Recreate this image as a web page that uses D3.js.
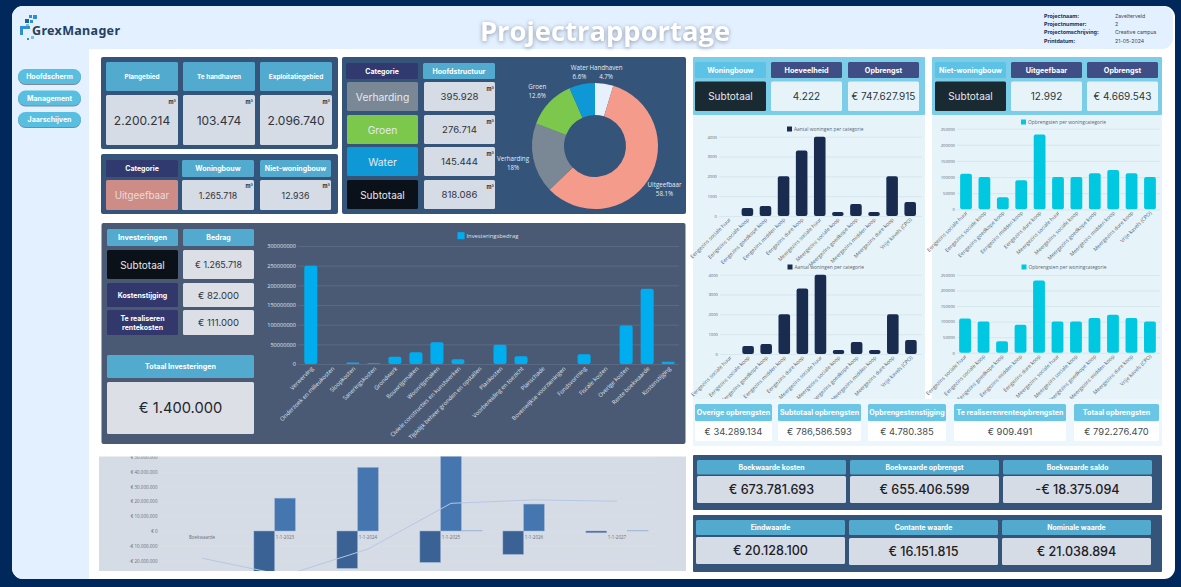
<!DOCTYPE html>
<html lang="nl">
<head>
<meta charset="UTF-8">
<title>Projectrapportage</title>
<script src="https://d3js.org/d3.v7.min.js"></script>
<style>
    * { margin: 0; padding: 0; }
    body { background-color: #00285a; overflow: hidden; }
    svg { display: block; }
    text { font-family: Inter, "Open Sans", sans-serif; }
    .chart text { font-family: "Open Sans", sans-serif; }
    .title { font-family: "Open Sans", sans-serif; font-weight: 700; filter: drop-shadow(0 1px 2px rgba(70,80,100,.55)); }
    .raised { filter: drop-shadow(0 1px 0.5px rgba(40,50,70,.55)); }
</style>
</head>
<body>
<svg id="page" width="1181" height="587"></svg>
<script>
// project info
const infoLabels = ['Projectnaam:', 'Projectnummer:', 'Projectomschrijving:', 'Printdatum:'];
const infoValues = ['Zavelterveld', '2', 'Creative campus', '21-05-2024'];
const menuItems = ['Hoofdscherm', 'Management', 'Jaarschijven'];

// oppervlaktes
const areaHeaders = ['Plangebied', 'Te handhaven', 'Exploitatiegebied'];
const areaValues = ['2.200.214', '103.474', '2.096.740'];
const plotHeaders = ['Categorie', 'Woningbouw', 'Niet-woningbouw'];
const plotValues = ['Uitgeefbaar', '1.265.718', '12.936'];
const mainLabels = ['Verharding', 'Groen', 'Water', 'Subtotaal'];
const mainValues = ['395.928', '276.714', '145.444', '818.086'];

// donut
const donutLabels = ['Handhaven', 'Uitgeefbaar', 'Verharding', 'Groen', 'Water'];
const donutValues = [4.7, 58.1, 18, 12.6, 6.6];
const donutColors = ['#e6f1fd', '#f49b8c', '#7a8896', '#7cc84c', '#0e98d6'];

// investeringen
const investLabels = ['Verwerving', 'Onderzoek en milieukosten', 'Sloopkosten', 'Saneringskosten', 'Grondwerk', 'Bouwrijpmaken', 'Woonrijpmaken', 'Civiele constructies en kunstwerken', 'Tijdelijk beheer gronden en opstallen', 'Plankosten', 'Voorbereiding en toezicht', 'Planschade', 'Bovenwijkse voorzieningen', 'Fondsvorming', 'Fiscale kosten', 'Overige kosten', 'Rente boekwaarde', 'Kostenstijging'];
const investValues = [250000000, 0, 4000000, 2000000, 18600000, 29700000, 55000000, 12000000, 0, 49000000, 19500000, 0, 0, 24600000, 0, 98000000, 191000000, 6000000];
const investTicks = [0, 50000000, 100000000, 150000000, 200000000, 250000000, 300000000];

// woningbouw
const homeLabels = ['Eengezins sociale huur', 'Eengezins sociale koop', 'Eengezins goedkope koop', 'Eengezins midden koop', 'Eengezins dure koop', 'Meergezins sociale huur', 'Meergezins sociale koop', 'Meergezins goedkope koop', 'Meergezins midden koop', 'Meergezins dure koop', 'Vrije kavels (CPO)'];
const homeCounts = [0, 400, 500, 2000, 3300, 4000, 200, 600, 200, 2000, 700];
const homeRevenue = [110000, 100000, 37000, 90000, 232000, 100000, 100000, 112000, 122000, 112000, 100000];
const countTicks = [0, 1000, 2000, 3000, 4000];
const revenueTicks = [0, 50000, 100000, 150000, 200000, 250000];

// opbrengsten
const revenueHeaders = ['Overige opbrengsten', 'Subtotaal opbrengsten', 'Opbrengestenstijging', 'Te realiserenrenteopbrengsten', 'Totaal opbrengsten'];
const revenueValues = ['€ 34.289.134', '€ 786,586.593', '€ 4.780.385', '€ 909.491', '€ 792.276.470'];
const bookHeaders = ['Boekwaarde kosten', 'Boekwaarde opbrengst', 'Boekwaarde saldo'];
const bookValues = ['€ 673.781.693', '€ 655.406.599', '-€ 18.375.094'];
const endHeaders = ['Eindwaarde', 'Contante waarde', 'Nominale waarde'];
const endValues = ['€ 20.128.100', '€ 16.151.815', '€ 21.038.894'];

// boekwaarde per jaar
const yearLabels = ['Boekwaarde', '1-1-2023', '1-1-2024', '1-1-2025', '1-1-2026', '1-1-2027'];
const yearCosts = [0, -34000000, -25200000, -21200000, -15800000, -1200000];
const yearRevenue = [0, 22200000, 43000000, 52100000, 18200000, 0];
const yearInterest = [0, 0, 0, 300000, 0, 300000];
const yearBalance = [-18400000, -30000000, -12200000, 18700000, 21000000, 20100000];
const yearTicks = [-20000000, -10000000, 0, 10000000, 20000000, 30000000, 40000000, 50000000];

const svg = d3.select('#page');

function box(x, y, w, h, fill, r) {
    return svg.append('rect').attr('x', x).attr('y', y).attr('width', w).attr('height', h)
        .attr('rx', r === undefined ? 1.5 : r).attr('fill', fill);
}

function label(x, y, txt, size, color, weight, anchor) {
    return svg.append('text').attr('x', x).attr('y', y)
        .attr('text-anchor', anchor || 'middle').attr('dominant-baseline', 'central')
        .attr('font-size', size).attr('font-weight', weight || 400).attr('fill', color).text(txt);
}

// a coloured cell with centred text
function cell(x, y, w, h, fill, txt, size, color, weight) {
    box(x, y, w, h, fill);
    label(x + w / 2, y + h / 2, txt, size, color, weight);
}

function unit(x, y) {
    label(x, y, 'm²', 5.5, '#2b2f38', 700, 'end');
}

// page background
svg.append('rect').attr('x', 12).attr('y', 6).attr('width', 1163).attr('height', 573).attr('rx', 11).attr('fill', '#ffffff');
svg.append('path').attr('fill', '#e3f0ff')
    .attr('d', 'M12 17 a11 11 0 0 1 11 -11 H1162 a11 11 0 0 1 11 11 V38 a11 11 0 0 1 -11 11 H89 V579 H23 a11 11 0 0 1 -11 -11 Z');

// logo
[[29, 15, 3, '#2e8fd8'], [33, 15, 4, '#2e8fd8'], [25, 19, 4, '#1e5f9c'], [30, 20, 3, '#2e8fd8'], [26, 24, 3, '#7dbbe8'], [31, 36, 3, '#7dbbe8'], [27, 38, 2, '#2e8fd8']]
    .forEach(d => box(d[0], d[1], d[2], d[2], d[3], 0));
svg.append('path').attr('d', 'M20 26 H30 V29 H23 V35 H20 Z').attr('fill', '#2e8fd8');
label(32, 30, 'GrexManager', 12.5, '#24415f', 700, 'start').style('font-family', '"Noto Sans"').attr('textLength', 88);

label(605, 30, 'Projectrapportage', 27.4, '#ffffff', 700).attr('class', 'title');

const infoY = [16, 24, 31.5, 40.5];
infoLabels.forEach((d, i) => {
    label(1044, infoY[i], d, 5.4, '#24304a', 700, 'start');
    label(1115, infoY[i], infoValues[i], 5.2, '#3c4656', 400, 'start');
});

// menu
const menuY = [69, 90.5, 112];
menuItems.forEach((d, i) => {
    box(18, menuY[i], 63, 15, '#58bfe0', 7.5).attr('class', 'raised');
    label(49.5, menuY[i] + 7.5, d, 7, '#ffffff', 700);
});

// plangebied
box(101, 57, 237, 92, '#34547a', 2);
const areaX = [106, 183, 260];
areaHeaders.forEach((d, i) => {
    cell(areaX[i], 62, 72, 29, '#52abcf', d, 6.4, '#ffffff', 700);
    cell(areaX[i], 95, 72, 50, '#d6dce5', areaValues[i], 12, '#30343c');
    unit(areaX[i] + 70, 102);
});

// uitgeefbaar
box(101, 154, 237, 60, '#34547a', 2);
const plotX = [106, 182, 260];
const plotW = [72, 72, 71];
plotHeaders.forEach((d, i) => {
    cell(plotX[i], 160, plotW[i], 17, i === 0 ? '#303a6e' : '#52abcf', d, 7, '#ffffff', 700);
    if (i === 0) {
        cell(plotX[i], 180, plotW[i], 30, '#cd8c85', plotValues[i], 9.8, '#ecdcd9');
    } else {
        cell(plotX[i], 180, plotW[i], 30, '#d6dce5', plotValues[i], 8.8, '#30343c');
        unit(plotX[i] + plotW[i] - 1, 186);
    }
});

// hoofdstructuur
box(342, 57, 344, 157, '#34547a', 2);
cell(346, 63, 72, 16, '#303a6e', 'Categorie', 7, '#ffffff', 700);
cell(423, 63, 72, 16, '#52abcf', 'Hoofdstructuur', 7, '#ffffff', 700);
const mainY = [82, 115, 147, 180];
const mainFill = ['#7a8896', '#7cc84c', '#0e98d6', '#0b1118'];
mainLabels.forEach((d, i) => {
    cell(347, mainY[i], 71, 29, mainFill[i], d, i === 3 ? 10 : 10.3, '#e3eaf0');
    cell(424, mainY[i], 71, 29, '#d6dce5', mainValues[i], 9.6, '#30343c');
    unit(494, mainY[i] + 7);
});

// donut
const pie = d3.pie().sort(null).value(d => d)(donutValues);
const arc = d3.arc().innerRadius(31).outerRadius(63);
const donut = svg.append('g').attr('class', 'chart').attr('transform', 'translate(595,146)');
donut.selectAll('path').data(pie).join('path')
    .attr('d', arc).attr('fill', (d, i) => donutColors[i]);
pie.forEach((d, i) => {
    const mid = (d.startAngle + d.endAngle) / 2;
    const r = 75 + 9 * Math.sin(mid) * Math.sin(mid);
    const t = donut.append('text').attr('text-anchor', 'middle').attr('font-size', 6.2).attr('fill', '#e6edf5')
        .attr('transform', `translate(${r * Math.sin(mid)},${-r * Math.cos(mid)})`);
    t.append('tspan').attr('x', 0).attr('y', -2).text(donutLabels[i]);
    t.append('tspan').attr('x', 0).attr('y', 7).text(donutValues[i] + '%');
});

// bar chart with legend, used for the four small charts and the investment chart
function barChart(o) {
    const g = svg.append('g').attr('class', 'chart');
    const x = d3.scaleBand().domain(o.labels).range([o.x0, o.x1]).padding(o.padding);
    const y = d3.scaleLinear().domain(o.domain).range([o.y0, o.y1]);

    const grid = g.append('g').attr('transform', `translate(${o.gridX0},0)`)
        .call(d3.axisLeft(y).tickValues(o.ticks).tickSize(-(o.gridX1 - o.gridX0)).tickFormat(d3.format('d')).tickPadding(2));
    grid.select('.domain').remove();
    grid.selectAll('line').attr('stroke', o.gridColor).attr('stroke-width', 0.8);
    grid.selectAll('text').attr('font-size', o.tickSize).attr('fill', o.textColor);

    g.selectAll('rect.bar').data(o.values).join('rect').attr('class', 'bar')
        .attr('x', (d, i) => x(o.labels[i]))
        .attr('y', d => y(d))
        .attr('width', x.bandwidth())
        .attr('height', d => y(0) - y(d))
        .attr('rx', d => Math.min(2, (y(0) - y(d)) / 2))
        .attr('fill', o.color);

    const axis = g.append('g').attr('transform', `translate(0,${o.y0})`)
        .call(d3.axisBottom(x).tickSize(0).tickPadding(0));
    axis.select('.domain').remove();
    axis.selectAll('text')
        .attr('font-size', o.labelSize).attr('fill', o.textColor)
        .attr('text-anchor', 'end').attr('dy', 0)
        .attr('transform', `translate(${o.labelDx},${o.labelDy}) rotate(-45)`);

    g.append('rect').attr('x', o.legendX).attr('y', o.legendY - o.legendBox / 2)
        .attr('width', o.legendBox).attr('height', o.legendBox).attr('fill', o.color);
    g.append('text').attr('x', o.legendX + o.legendBox + 2).attr('y', o.legendY)
        .attr('dominant-baseline', 'central').attr('font-size', o.legendSize).attr('fill', o.textColor).text(o.legend);
}

// investeringen panel
box(101.5, 223, 584, 221, '#4a5a75', 2);
cell(107, 229, 71, 17, '#52abcf', 'Investeringen', 7.3, '#ffffff', 700);
cell(183, 229, 71, 17, '#52abcf', 'Bedrag', 7, '#ffffff', 700);
cell(107, 250, 71, 29, '#0b1118', 'Subtotaal', 10, '#e6e8ec');
cell(183, 250, 71, 29, '#dcdfe5', '€ 1.265.718', 8.8, '#30343c');
cell(107, 283, 71, 24, '#33386c', 'Kostenstijging', 7, '#ffffff', 700);
cell(183, 283, 71, 24, '#dcdfe5', '€ 82.000', 9.5, '#30343c');
box(107, 310, 71, 25, '#33386c');
label(142.5, 318, 'Te realiseren', 7, '#ffffff', 700);
label(142.5, 327, 'rentekosten', 7, '#ffffff', 700);
cell(183, 310, 71, 25, '#dcdfe5', '€ 111.000', 9.5, '#30343c');
cell(107, 355, 147, 23, '#52abcf', 'Totaal Investeringen', 7.1, '#ffffff', 700);
cell(107, 382, 147, 52, '#dcdfe5', '€ 1.400.000', 14.7, '#23262c');

barChart({
    labels: investLabels, values: investValues, ticks: investTicks, domain: [0, 300000000],
    x0: 296.3, x1: 682.7, padding: 0.38, y0: 364, y1: 246, gridX0: 298, gridX1: 679,
    gridColor: '#5f6e88', textColor: '#dfe3ea', color: '#00aeef', tickSize: 5.6, labelSize: 5.8, legendSize: 5.8,
    labelDx: 3, labelDy: 5, legend: 'Investeringsbedrag', legendX: 457.5, legendY: 235.7, legendBox: 7
});

// woningbouw panels
box(693, 57, 232, 58, '#7bcde8', 1);
box(932, 57, 230, 58, '#7bcde8', 1);
box(693, 115, 232, 285, '#e6f4fa', 0);
box(932, 115, 230, 285, '#e6f4fa', 0);

const leftX = [695, 771, 848];
const rightX = [935, 1011, 1087];
const topHeaders = [['Woningbouw', 'Hoeveelheid', 'Opbrengst'], ['Niet-woningbouw', 'Uitgeefbaar', 'Opbrengst']];
const topValues = [['Subtotaal', '4.222', '€ 747.627.915'], ['Subtotaal', '12.992', '€ 4.669.543']];
[leftX, rightX].forEach((cols, s) => {
    cols.forEach((cx, i) => {
        cell(cx, 62, 71, 16, i === 0 ? '#5cc2e6' : '#3f4f86', topHeaders[s][i], 7.2, '#ffffff', 700);
        if (i === 0) {
            cell(cx, 81.5, 71, 29.5, '#1a2a32', topValues[s][i], 10, '#e6e8ec');
        } else {
            cell(cx, 81.5, 71, 29.5, '#e6f4fa', topValues[s][i], 10, '#30343c');
        }
    });
});

const smallBase = { labels: homeLabels, padding: 0.36, gridColor: '#d3e3ea', textColor: '#5a6470', tickSize: 4.2, labelSize: 5.2, legendSize: 4.9, labelDx: 2, labelDy: 4, legendBox: 5 };
barChart({ ...smallBase, values: homeCounts, ticks: countTicks, domain: [0, 4000], color: '#1a2b50',
    x0: 717, x1: 922.5, y0: 216, y1: 136.7, gridX0: 719, gridX1: 922, legend: 'Aantal woningen per categorie', legendX: 787, legendY: 129 });
barChart({ ...smallBase, values: homeCounts, ticks: countTicks, domain: [0, 4000], color: '#1a2b50',
    x0: 717.7, x1: 923.2, y0: 354, y1: 274.7, gridX0: 720, gridX1: 922, legend: 'Aantal woningen per categorie', legendX: 787.5, legendY: 267 });
barChart({ ...smallBase, values: homeRevenue, ticks: revenueTicks, domain: [0, 250000], color: '#00c8e0',
    x0: 953.5, x1: 1162.5, y0: 209.3, y1: 128.7, gridX0: 957, gridX1: 1160, legend: 'Opbrengsten per woningcategorie', legendX: 1021, legendY: 122 });
barChart({ ...smallBase, values: homeRevenue, ticks: revenueTicks, domain: [0, 250000], color: '#00c8e0',
    x0: 952.5, x1: 1162.5, y0: 352.7, y1: 275, gridX0: 957, gridX1: 1160, legend: 'Opbrengsten per woningcategorie', legendX: 1021.5, legendY: 267 });

// opbrengsten strip
box(693, 399, 469, 47, '#ecf6fd', 1);
const stripX = [695, 778, 868, 954, 1074];
const stripW = [77, 83, 78, 112, 85];
revenueHeaders.forEach((d, i) => {
    cell(stripX[i], 404, stripW[i], 17, '#6ac6e4', d, 7.1, '#ffffff', 700);
    cell(stripX[i], 422, stripW[i], 19, '#ffffff', revenueValues[i], 9.4, '#444a52');
});

// boekwaarde + eindwaarde
box(693, 455, 469, 55, '#34547a', 1);
const bookX = [697, 850, 1003];
bookHeaders.forEach((d, i) => {
    cell(bookX[i], 460, 149, 14.5, '#52abcf', d, 6.9, '#ffffff', 700);
    cell(bookX[i], 476, 149, 27, '#d6dce5', bookValues[i], 12.6, '#1d2026', 500);
});
box(693, 515, 469, 57, '#34547a', 1);
const endX = [696, 849, 1002];
const endY = [537, 538, 538];
endHeaders.forEach((d, i) => {
    cell(endX[i], 520, 149, 15, '#52abcf', d, 6.9, '#ffffff', 700);
    cell(endX[i], endY[i], 149, 27, '#d6dce5', endValues[i], 12.6, '#1d2026', 500);
});

// boekwaarde per jaar chart
box(99, 456.5, 587, 114.5, '#d6dce5', 0);
svg.append('clipPath').attr('id', 'yearClip').append('rect')
    .attr('x', 99).attr('y', 456.5).attr('width', 587).attr('height', 114.5);
const yearG = svg.append('g').attr('class', 'chart').attr('clip-path', 'url(#yearClip)');
const yearX = d3.scaleBand().domain(yearLabels).range([160.5, 658.5]);
const yearY = d3.scaleLinear().domain([-20000000, 40000000]).range([560.6, 471.8]);
const euro = d => (d < 0 ? '-€ ' : '€ ') + (d === 0 ? '0' : d3.format(',')(Math.abs(d)).replace(/,/g, '.'));

const yearAxis = yearG.append('g').attr('transform', 'translate(160,0)')
    .call(d3.axisLeft(yearY).tickValues(yearTicks).tickSize(-498).tickFormat(euro).tickPadding(2.5));
yearAxis.select('.domain').remove();
yearAxis.selectAll('line').attr('stroke', '#dcdfe3').attr('stroke-width', 0.6);
yearAxis.selectAll('text').attr('font-size', 4.5).attr('fill', '#6a6f78');

const yearSeries = d3.scaleBand().domain(['costs', 'revenue', 'interest']).range([0, yearX.bandwidth()]).paddingOuter(0.5).paddingInner(0);
const seriesList = [
    ['costs', yearCosts, '#3a6295'],
    ['revenue', yearRevenue, '#4676b0'],
    ['interest', yearInterest, '#b4c7e7']
];
seriesList.forEach(s => {
    yearG.append('g').selectAll('rect').data(s[1]).join('rect')
        .attr('x', (d, i) => yearX(yearLabels[i]) + yearSeries(s[0]))
        .attr('y', d => Math.min(yearY(d), yearY(0)))
        .attr('width', yearSeries.bandwidth())
        .attr('height', d => Math.abs(yearY(d) - yearY(0)))
        .attr('fill', s[2])
        .attr('stroke', d => d === 0 ? 'none' : '#9db4d4')
        .attr('stroke-width', 0.5);
});
yearG.append('path').datum(yearBalance)
    .attr('fill', 'none').attr('stroke', '#b4c7e7').attr('stroke-width', 1)
    .attr('d', d3.line().x((d, i) => yearX(yearLabels[i]) + yearX.bandwidth() / 2).y(d => yearY(d)));
yearG.append('g').selectAll('text').data(yearLabels).join('text')
    .attr('x', d => yearX(d) + yearX.bandwidth() / 2).attr('y', yearY(0) + 5.7)
    .attr('text-anchor', 'middle').attr('dominant-baseline', 'central')
    .attr('font-size', 4.5).attr('fill', '#6a6f78').text(d => d);
</script>
</body>
</html>
